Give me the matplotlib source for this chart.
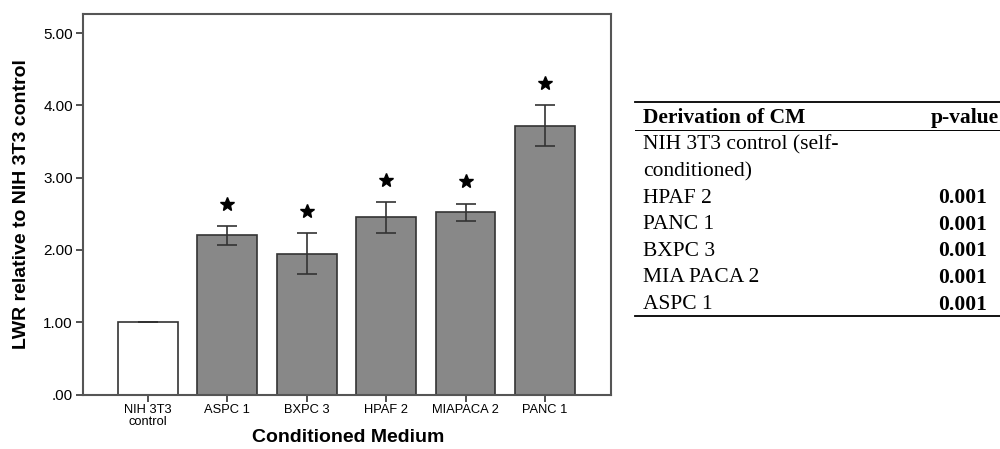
import matplotlib
matplotlib.use('Agg')
import matplotlib.pyplot as plt

# datos de la grafica
categorias = ['NIH 3T3\ncontrol', 'ASPC 1', 'BXPC 3', 'HPAF 2', 'MIAPACA 2', 'PANC 1']
medias = [1.00, 2.20, 1.95, 2.45, 2.52, 3.72]
errores = [0.0, 0.125, 0.28, 0.21, 0.12, 0.285]
significativo = [False, True, True, True, True, True]
ticks_y = [0, 1, 2, 3, 4, 5]
etiquetas_y = ['.00', '1.00', '2.00', '3.00', '4.00', '5.00']

# datos de la tabla
tabla_cabecera = ['Derivation of CM', 'p-value']
tabla_nombres = ['NIH 3T3 control (self-', 'conditioned)', 'HPAF 2', 'PANC 1',
                 'BXPC 3', 'MIA PACA 2', 'ASPC 1']
tabla_pvalores = ['', '', '0.001', '0.001', '0.001', '0.001', '0.001']

W, H = 1000, 449
fig = plt.figure(figsize=(10, 4.49), dpi=100)
ax = fig.add_axes([82.7 / W, 1 - 394.5 / H, (611 - 82.7) / W, (394.5 - 14.3) / H])

x = list(range(len(categorias)))
colores = ['white' if not s else '#888888' for s in significativo]
ax.bar(x, medias, width=0.75, color=colores, edgecolor='#333333', linewidth=1.2, zorder=2)
ax.errorbar(x, medias, yerr=errores, fmt='none', ecolor='#333333', elinewidth=1.2,
            capsize=7.5, capthick=1.2, zorder=3)

for xi, m, e, s in zip(x, medias, errores, significativo):
    if s:
        ax.plot(xi, m + e + 0.31, marker='*', color='black', markersize=10.5,
                linestyle='none', zorder=4)

ax.set_xlim(-0.82, 5.83)
ax.set_ylim(0, 5.26)
ax.set_yticks(ticks_y)
ax.set_yticklabels(etiquetas_y, fontsize=11, family='Liberation Sans')
ax.set_xticks(x)
ax.set_xticklabels(categorias, fontsize=9.3, family='Liberation Sans', linespacing=0.95)
ax.tick_params(axis='both', direction='out', length=5, width=1.2, color='#333333', pad=2)
for lado in ax.spines.values():
    lado.set_color('#555555')
    lado.set_linewidth(1.5)

ax.set_ylabel('LWR relative to NIH 3T3 control', fontsize=14, fontweight='bold',
              family='Liberation Sans')
ax.yaxis.set_label_coords(-0.115, 0.5)
ax.yaxis.label.set_va('center')
ax.set_xlabel('Conditioned Medium', fontsize=14, fontweight='bold', family='Liberation Sans')
ax.xaxis.set_label_coords(0.502, -0.112)
ax.xaxis.label.set_va('center')

# tabla a la derecha, con texto en la figura
def fy(p):
    return 1 - p / H

x_izq = 643 / W
x_der = 999 / W
fig.add_artist(plt.Line2D([635 / W, 1.0], [fy(102), fy(102)], color='black', lw=1.3))
fig.text(x_izq, fy(118), tabla_cabecera[0], fontsize=15.5, fontweight='bold',
         family='Liberation Serif', va='center', ha='left')
fig.text(x_der, fy(118), tabla_cabecera[1], fontsize=15.5, fontweight='bold',
         family='Liberation Serif', va='center', ha='right')
fig.add_artist(plt.Line2D([635 / W, 1.0], [fy(130), fy(130)], color='black', lw=0.7))
for i, (nombre, p) in enumerate(zip(tabla_nombres, tabla_pvalores)):
    yy = fy(145 + 26.6 * i)
    fig.text(x_izq, yy, nombre, fontsize=15.5, family='Liberation Serif', va='center', ha='left')
    if p:
        fig.text(987 / W, yy, p, fontsize=15.5, fontweight='bold', family='Liberation Serif',
                 va='center', ha='right')
fig.add_artist(plt.Line2D([635 / W, 1.0], [fy(316), fy(316)], color='black', lw=1.3))

fig.savefig('out.png', dpi=100)
